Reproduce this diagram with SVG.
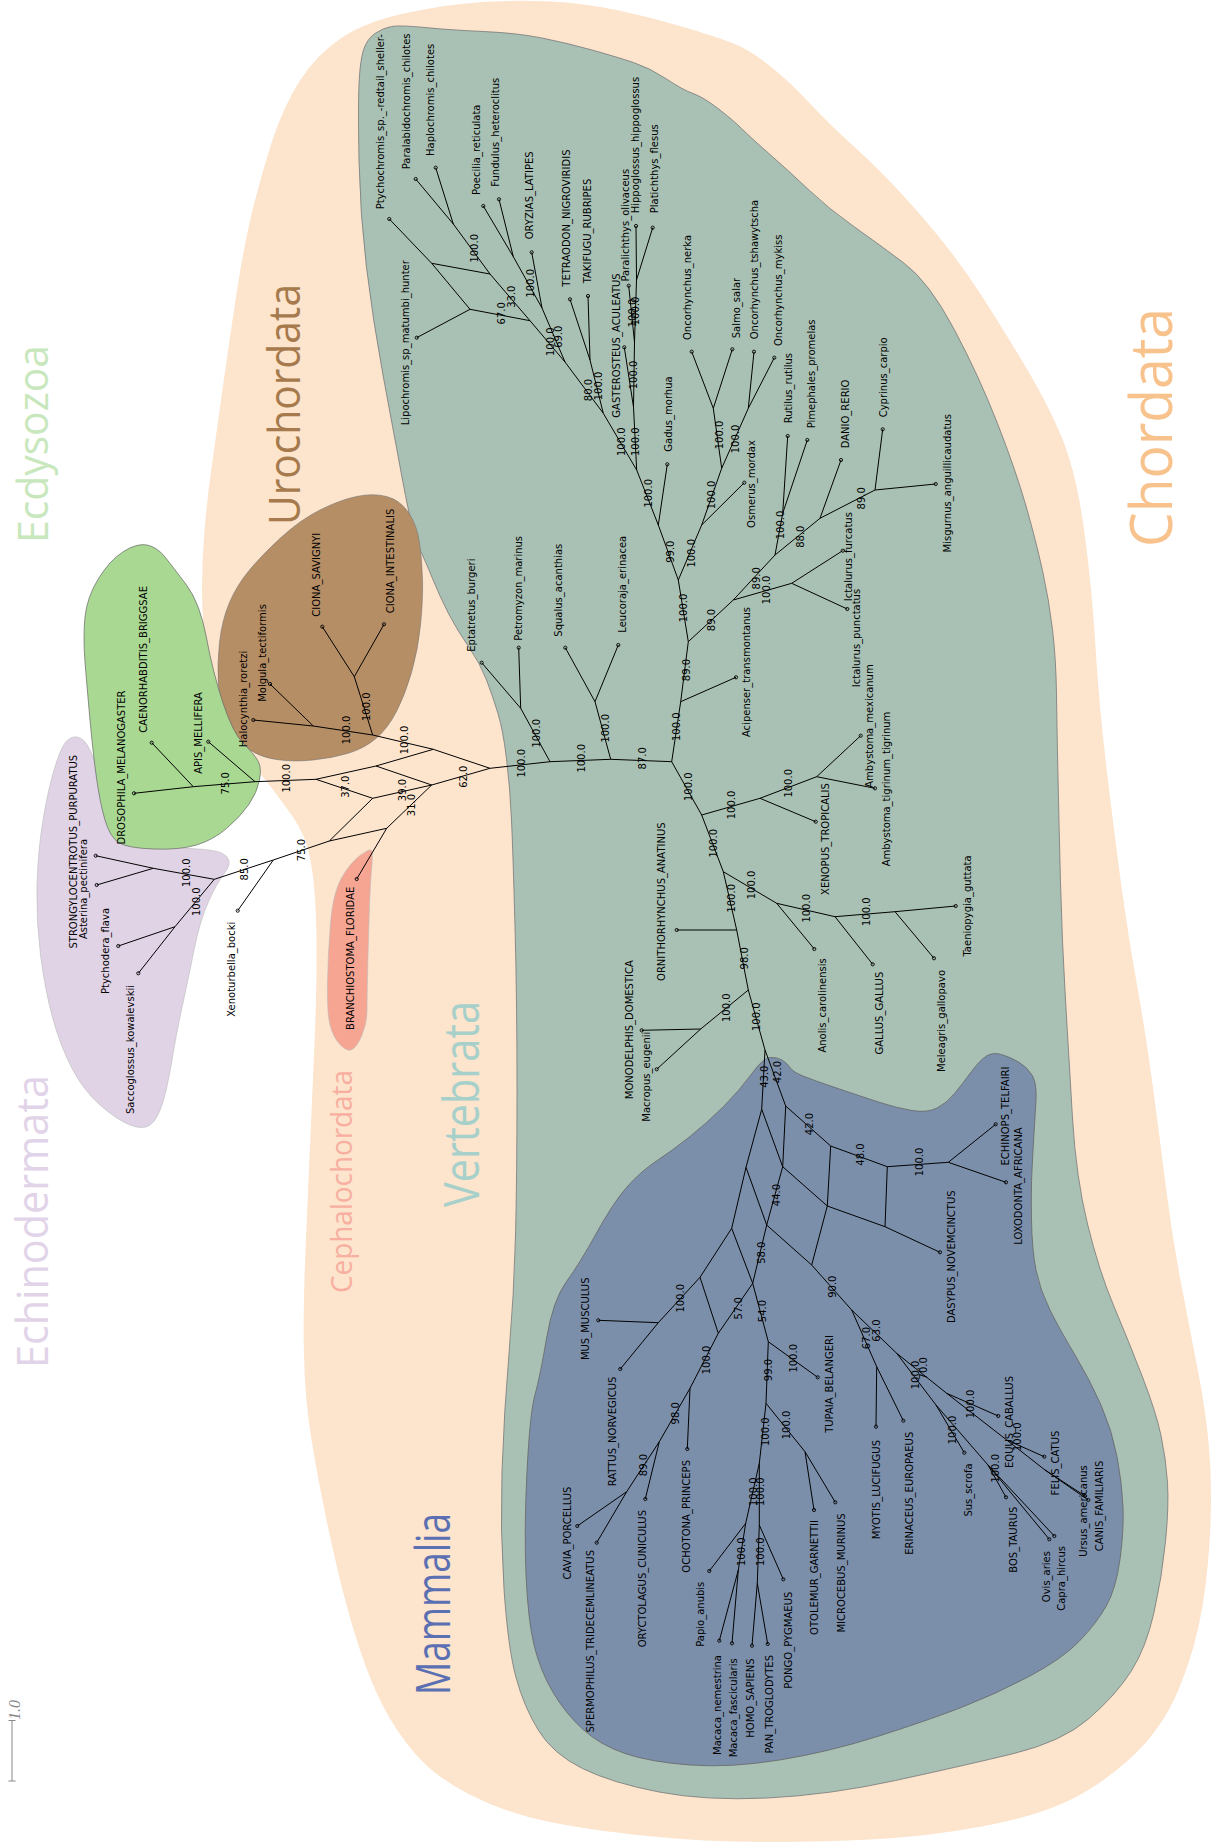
<svg xmlns="http://www.w3.org/2000/svg" width="1229" height="1845" viewBox="0 0 1229 1845">
<style>
.lf{font-family:"DejaVu Sans","Liberation Sans",sans-serif;font-size:10px;fill:#000}
.bs{font-family:"DejaVu Sans","Liberation Sans",sans-serif;font-size:10px;fill:#000;text-anchor:middle}
.big{font-family:"Open Sans","DejaVu Sans",sans-serif}
.e{stroke:#000;stroke-width:1;fill:none;stroke-linejoin:round}
.d{fill:none;stroke:#000;stroke-width:0.9}
.s{text-anchor:start}.m{text-anchor:middle}.n{text-anchor:end}
</style>
<rect width="1229" height="1845" fill="#fff"/>
<g id="regions" stroke-linejoin="round">
<path id="r-chordata" fill="#fce4cd" d="M408.5 12.5 Q450 4 483.5 2 Q517 0 550 1.5 Q583 3 616.5 10 Q650 17 683.5 27 Q717 37 733.5 43.5 Q750 50 770 66 Q790 82 809.5 103 Q829 124 854.5 147 Q880 170 904.5 197 Q929 224 947 247 Q965 270 980.5 294 Q996 318 1021 359 Q1046 400 1061 435.5 Q1076 471 1084 529.5 Q1092 588 1095.5 647 Q1099 706 1107.5 776.5 Q1116 847 1122.5 894 Q1129 941 1137.5 988 Q1146 1035 1153 1087.5 Q1160 1140 1166 1188 Q1172 1236 1181 1283 Q1190 1330 1198 1371 Q1206 1412 1209 1447.5 Q1212 1483 1210.5 1524 Q1209 1565 1202.5 1606 Q1196 1647 1179 1688.5 Q1162 1730 1129 1759.5 Q1096 1789 1062.5 1803.5 Q1029 1818 979 1827 Q929 1836 879 1839 Q829 1842 767.5 1842 Q706 1842 647.5 1836 Q589 1830 547.5 1821.5 Q506 1813 470.5 1795 Q435 1777 415 1753.5 Q395 1730 382.5 1705 Q370 1680 360 1650 Q350 1620 342.5 1590 Q335 1560 326.5 1520 Q318 1480 311.5 1440 Q305 1400 304 1356.5 Q303 1313 305 1263 Q307 1213 310 1146.5 Q313 1080 315 1030 Q317 980 316.5 940 Q316 900 313 876.5 Q310 853 305 840 Q300 827 291.5 815 Q283 803 272.5 789 Q262 775 248.5 760 Q235 745 223.5 722.5 Q212 700 207 660 Q202 620 202 590 Q202 560 204.5 530 Q207 500 212 464.5 Q217 429 222 393 Q227 357 235 303.5 Q243 250 251.5 214.5 Q260 179 271.5 143 Q283 107 300 80.5 Q317 54 342 37.5 Q367 21 408.5 12.5 Z"/>
<path id="r-vertebrata" fill="#a9c1b4" stroke="#777" stroke-width="0.8" d="M375 33.5 Q383 28 391.5 26.5 Q400 25 425 27.5 Q450 30 483.5 31.5 Q517 33 542 38 Q567 43 592 50 Q617 57 633.5 62.5 Q650 68 666.5 79 Q683 90 693 93.5 Q703 97 718 108.5 Q733 120 741.5 128.5 Q750 137 770 154.5 Q790 172 809.5 190.5 Q829 209 854.5 227 Q880 245 904.5 263.5 Q929 282 954 329 Q979 376 997.5 423.5 Q1016 471 1026 506 Q1036 541 1042.5 570.5 Q1049 600 1052.5 629.5 Q1056 659 1056.5 694.5 Q1057 730 1058 777 Q1059 824 1060.5 882.5 Q1062 941 1065.5 1000 Q1069 1059 1072.5 1118 Q1076 1177 1087.5 1224 Q1099 1271 1114 1306.5 Q1129 1342 1142.5 1377 Q1156 1412 1161 1435.5 Q1166 1459 1167.5 1482.5 Q1169 1506 1165.5 1541.5 Q1162 1577 1154 1612.5 Q1146 1648 1131 1671.5 Q1116 1695 1089 1718.5 Q1062 1742 1012 1754 Q962 1766 895.5 1780.5 Q829 1795 767.5 1798 Q706 1801 659 1792 Q612 1783 582.5 1768.5 Q553 1754 538.5 1730.5 Q524 1707 516 1677.5 Q508 1648 504 1589 Q500 1530 502 1471 Q504 1412 509 1353.5 Q514 1295 515.5 1236 Q517 1177 517 1088.5 Q517 1000 515 926.5 Q513 853 511.5 820 Q510 787 506.5 758.5 Q503 730 498 713.5 Q493 697 486.5 680 Q480 663 468.5 646.5 Q457 630 448.5 613.5 Q440 597 432.5 578.5 Q425 560 419 548 Q413 536 403 482.5 Q393 429 383 375 Q373 321 366.5 267.5 Q360 214 359 160.5 Q358 107 359 84 Q360 61 363.5 50 Q367 39 375 33.5 Z"/>
<path id="r-mammalia" fill="#7b8fab" stroke="#666" stroke-width="0.8" d="M751.5 1074 Q763 1058 770 1057.5 Q777 1057 782 1060 Q787 1063 790 1067.5 Q793 1072 803 1076 Q813 1080 838 1088.5 Q863 1097 880 1102.5 Q897 1108 912 1110.5 Q927 1113 937 1108 Q947 1103 955 1093 Q963 1083 971.5 1071.5 Q980 1060 986.5 1056 Q993 1052 1001.5 1054.5 Q1010 1057 1018.5 1062 Q1027 1067 1032 1075 Q1037 1083 1036 1100 Q1035 1117 1034 1133.5 Q1033 1150 1032 1170 Q1031 1190 1031.5 1220 Q1032 1250 1036 1270 Q1040 1290 1050 1310 Q1060 1330 1075 1355 Q1090 1380 1101 1405 Q1112 1430 1117 1456.5 Q1122 1483 1123 1506.5 Q1124 1530 1120 1559.5 Q1116 1589 1106 1606.5 Q1096 1624 1079 1641.5 Q1062 1659 1029 1676.5 Q996 1694 962.5 1707 Q929 1720 879 1736 Q829 1752 779.5 1760 Q730 1768 690 1765 Q650 1762 625 1753.5 Q600 1745 582.5 1729 Q565 1713 552.5 1691.5 Q540 1670 534 1645 Q528 1620 526 1575 Q524 1530 527 1471 Q530 1412 535 1394.5 Q540 1377 546.5 1338.5 Q553 1300 566.5 1281.5 Q580 1263 596.5 1233 Q613 1203 626.5 1187.5 Q640 1172 656.5 1161 Q673 1150 690 1136.5 Q707 1123 723.5 1106.5 Q740 1090 751.5 1074 Z"/>
<path id="r-urochordata" fill="#b68e66" stroke="#777" stroke-width="0.6" d="M356.5 496.5 Q373 493 386.5 496.5 Q400 500 408.5 512.5 Q417 525 419.5 542.5 Q422 560 422.5 580 Q423 600 420.5 625 Q418 650 411.5 672.5 Q405 695 396.5 711.5 Q388 728 376.5 738 Q365 748 349 753 Q333 758 313 760 Q293 762 276.5 759.5 Q260 757 247.5 748.5 Q235 740 227.5 722.5 Q220 705 218.5 685 Q217 665 219.5 642.5 Q222 620 229.5 602.5 Q237 585 249.5 570 Q262 555 281 537.5 Q300 520 320 510 Q340 500 356.5 496.5 Z"/>
<path id="r-echinodermata" fill="#e1d3e6" stroke="#bbb" stroke-width="0.6" d="M65 743 Q70 736 77 737 Q84 738 89.5 749 Q95 760 100 780 Q105 800 112.5 820 Q120 840 150 844 Q180 848 197.5 849 Q215 850 221.5 853 Q228 856 229 861 Q230 866 223.5 874.5 Q217 883 208.5 901.5 Q200 920 193.5 952.5 Q187 985 182 1007.5 Q177 1030 172 1060 Q167 1090 162 1105 Q157 1120 150 1125 Q143 1130 130 1125 Q117 1120 100 1105 Q83 1090 71.5 1067.5 Q60 1045 52.5 1017.5 Q45 990 40.5 955 Q36 920 37 885 Q38 850 43 820 Q48 790 54 770 Q60 750 65 743 Z"/>
<path id="r-ecdysozoa" fill="#a9d893" stroke="#666" stroke-width="0.7" d="M123.5 551.5 Q137 543 147 545 Q157 547 165 557 Q173 567 186.5 585 Q200 603 206.5 638 Q213 673 223 703 Q233 733 243 743 Q253 753 257.5 760 Q262 767 259.5 780 Q257 793 248.5 805 Q240 817 226.5 828.5 Q213 840 196.5 845 Q180 850 153.5 849 Q127 848 118.5 842.5 Q110 837 105 820 Q100 803 96.5 778 Q93 753 90 720 Q87 687 85 662 Q83 637 85 617 Q87 597 98.5 578.5 Q110 560 123.5 551.5 Z"/>
<path id="r-cephalochordata" fill="#f6a593" stroke="#bbb" stroke-width="0.6" d="M360 855.5 Q370 848 371.5 850.5 Q373 853 371.5 870 Q370 887 369 920 Q368 953 367.5 976.5 Q367 1000 367 1011.5 Q367 1023 362 1035 Q357 1047 352 1049.5 Q347 1052 340 1044.5 Q333 1037 330 1025 Q327 1013 327.5 983 Q328 953 330.5 923 Q333 893 341.5 878 Q350 863 360 855.5 Z"/>
</g>
<g id="clade-labels" class="big">
<text transform="translate(48,543) rotate(-90)" font-size="42" fill="#c9e7bd" textLength="198" lengthAdjust="spacingAndGlyphs">Ecdysozoa</text>
<text transform="translate(300,525) rotate(-90)" font-size="44" fill="#a67a4c" textLength="241" lengthAdjust="spacingAndGlyphs">Urochordata</text>
<text transform="translate(1172,547) rotate(-90)" font-size="58" fill="#f8c28d" textLength="239" lengthAdjust="spacingAndGlyphs">Chordata</text>
<text transform="translate(48,1368) rotate(-90)" font-size="44" fill="#e2d4e8" textLength="293" lengthAdjust="spacingAndGlyphs">Echinodermata</text>
<text transform="translate(352,1293) rotate(-90)" font-size="29" fill="#f8afa0" textLength="223" lengthAdjust="spacingAndGlyphs">Cephalochordata</text>
<text transform="translate(479,1207) rotate(-90)" font-size="50" fill="#a8d0ca" textLength="206" lengthAdjust="spacingAndGlyphs">Vertebrata</text>
<text transform="translate(450,1695) rotate(-90)" font-size="48" fill="#5b70b2" textLength="182" lengthAdjust="spacingAndGlyphs">Mammalia</text>
</g>
<g id="connectors" class="e">
<path d="M389.3 219L431.7 263.3L490 274L530 320.7L565 362L603.3 413.3L636.7 470L658.3 525L678.3 580L688.3 641.7L680.7 701.7L671.7 761.7M431.7 263.3L470 309.3L530 320.7M470 309.3L416.7 337.7M415.7 179L453.3 224L490 274M435.7 167.7L453.3 224M483.3 206L513.3 256.7L542 308L565 362M499 199.3L513.3 256.7M531.7 252.3L542 308M570 299.3L590 360L603.3 413.3M588 296L590 360M636 226L636.5 280L634.5 342L633.5 407L636.7 470M652.7 227.7L636.5 280M628.7 285.7L634.5 342M624.3 347.3L633.5 407M667.3 464.3L658.3 525"/>
<path d="M678.3 580L701.7 525L744.3 482.7M701.7 525L721.7 468.3L713.3 408.3L691.7 351.7M713.3 408.3L732.3 349.3M721.7 468.3L748.3 408.3L774.3 357.7M748.3 408.3L754 351.7M688.3 641.7L733.3 600L791.7 583.3L842.7 550.7M791.7 583.3L847.3 609M733.3 600L775 555L820 518.3L875 490L935.7 484M775 555L782.7 513.3L787.7 436M782.7 513.3L807.3 440M820 518.3L841 460M875 490L882.7 429.3M680.7 701.7L736 677.3"/>
<path d="M671.7 761.7L610.7 759.3L550 761.7L490 768.3M610.7 759.3L595 701.7L565.3 647.7M595 701.7L618.3 645M550 761.7L520.7 708.3L481.7 662.7M520.7 708.3L518.7 647.7M671.7 761.7L701.7 815L723.3 871.7L736.7 930L748.3 990L765 1050M701.7 815L760 798.3L815.7 821.7M760 798.3L816.7 776.7L860.7 735.7M816.7 776.7L875 788.3M723.3 871.7L776.7 903.3L814.3 949M776.7 903.3L835 916.7L872.7 964.3M835 916.7L895 911.7L955.7 906M895 911.7L934 958.3M736.7 930L676.7 930M748.3 990L700.7 1029L641.7 1030.3M700.7 1029L656.7 1069.3"/>
<path d="M765 1050L761.7 1109.3L746 1167.3L731.7 1228.3L700 1277.3L658.3 1322.7L620.3 1369M765 1050L785.7 1106L830.7 1146L887.3 1166.7L948.3 1162.3L995.7 1124.3M948.3 1162.3L1006 1182.3M785.7 1106L782.7 1166.7L827.3 1206L885 1226.7L940 1252.3M830.7 1146L827.3 1206M887.3 1166.7L885 1226.7M761.7 1109.3L782.7 1166.7L766.7 1225L811.7 1265L851.7 1310M827.3 1206L811.7 1265M746 1167.3L766.7 1225L752.7 1283.3L768.3 1341.7M731.7 1228.3L752.7 1283.3M700 1277.3L718.3 1333.3L752.7 1283.3M658.3 1322.7L598.3 1320.3"/>
<path d="M718.3 1333.3L690 1388.3L659.3 1441.7L626.7 1491.7L577.3 1526M626.7 1491.7L596.7 1542.7M659.3 1441.7L645.3 1499M690 1388.3L687.3 1449M768.3 1341.7L817.7 1377.3M768.3 1341.7L766 1403.3L759.3 1463.3L745.7 1523.3L738.3 1570L719.3 1640.7M738.3 1570L732 1643.3M745.7 1523.3L709.3 1571M759.3 1463.3L759.3 1525L757.3 1583.3L752 1645.7M757.3 1583.3L767.7 1644M759.3 1525L783.3 1579.3M766 1403.3L805 1451.7L814 1510M805 1451.7L835.3 1502.3"/>
<path d="M851.7 1310L876.7 1366.7L876 1426.7M876.7 1366.7L903.3 1420.7M851.7 1310L896.7 1353.3L936 1405L988 1465L1049.3 1539.3M988 1465L1054.3 1536M988 1465L1006 1497.3M936 1405L964.3 1452.7M896.7 1353.3L946.7 1393.3L1006.7 1440L1045 1470L1088.3 1500M1045 1470L1085 1496M1006.7 1440L1044.3 1456.7M946.7 1393.3L998.3 1416"/>
<path d="M490 768.3L433.3 749.3L372.7 735L313.3 726L253.3 720M313.3 726L270 684M372.7 735L354.3 676.7L322.3 626.7M354.3 676.7L384 624.3M490 768.3L431.7 785L386.7 828.3L356.7 879M433.3 749.3L376 766L431.7 785M376 766L316 779.3L372.7 798.3L431.7 785M372.7 798.3L329.3 841L386.7 828.3M316 779.3L255 781.7L193.3 786.7L134 793.3M255 781.7L208.3 741.7M193.3 786.7L151.7 742.7M329.3 841L273.3 860L214.3 879.3L153.3 868.3L95.7 855.7M273.3 860L237.7 910.7M153.3 868.3L96.7 885M214.3 879.3L175 926.7L118.3 946M175 926.7L138.3 973.3"/>
</g>
<g id="support">
<text class="bs" transform="translate(477.6,248.3) rotate(-90)">100.0</text>
<text class="bs" transform="translate(514.6,296.7) rotate(-90)">33.0</text>
<text class="bs" transform="translate(505.3,313.3) rotate(-90)">67.0</text>
<text class="bs" transform="translate(533.6,283.3) rotate(-90)">100.0</text>
<text class="bs" transform="translate(553.6,341.7) rotate(-90)">100.0</text>
<text class="bs" transform="translate(561.9,336.7) rotate(-90)">69.0</text>
<text class="bs" transform="translate(591.9,390) rotate(-90)">80.0</text>
<text class="bs" transform="translate(601.9,386) rotate(-90)">100.0</text>
<text class="bs" transform="translate(625.3,441.7) rotate(-90)">100.0</text>
<text class="bs" transform="translate(638.6,441.7) rotate(-90)">100.0</text>
<text class="bs" transform="translate(636.9,375) rotate(-90)">100.0</text>
<text class="bs" transform="translate(636.1,313) rotate(-90)">100.0</text>
<text class="bs" transform="translate(638.6,311) rotate(-90)">100.0</text>
<text class="bs" transform="translate(651.9,493.3) rotate(-90)">100.0</text>
<text class="bs" transform="translate(673.6,551.7) rotate(-90)">99.0</text>
<text class="bs" transform="translate(695.3,553.3) rotate(-90)">100.0</text>
<text class="bs" transform="translate(715.3,495) rotate(-90)">100.0</text>
<text class="bs" transform="translate(722.9,435) rotate(-90)">100.0</text>
<text class="bs" transform="translate(739.1,439) rotate(-90)">100.0</text>
<text class="bs" transform="translate(686.9,608) rotate(-90)">100.0</text>
<text class="bs" transform="translate(715.3,620) rotate(-90)">89.0</text>
<text class="bs" transform="translate(760.3,578.3) rotate(-90)">89.0</text>
<text class="bs" transform="translate(769.6,590) rotate(-90)">100.0</text>
<text class="bs" transform="translate(783.6,525) rotate(-90)">100.0</text>
<text class="bs" transform="translate(803.6,536.7) rotate(-90)">88.0</text>
<text class="bs" transform="translate(865.3,498.3) rotate(-90)">89.0</text>
<text class="bs" transform="translate(689.6,670) rotate(-90)">89.0</text>
<text class="bs" transform="translate(680.3,726.7) rotate(-90)">100.0</text>
<text class="bs" transform="translate(646.3,758.3) rotate(-90)">87.0</text>
<text class="bs" transform="translate(608.6,728.3) rotate(-90)">100.0</text>
<text class="bs" transform="translate(585.3,758.3) rotate(-90)">100.0</text>
<text class="bs" transform="translate(540.3,733.3) rotate(-90)">100.0</text>
<text class="bs" transform="translate(525.3,763.3) rotate(-90)">100.0</text>
<text class="bs" transform="translate(466.9,776.7) rotate(-90)">62.0</text>
<text class="bs" transform="translate(691.9,786.7) rotate(-90)">100.0</text>
<text class="bs" transform="translate(735.3,805) rotate(-90)">100.0</text>
<text class="bs" transform="translate(791.9,783.3) rotate(-90)">100.0</text>
<text class="bs" transform="translate(716.9,843.3) rotate(-90)">100.0</text>
<text class="bs" transform="translate(755.3,885) rotate(-90)">100.0</text>
<text class="bs" transform="translate(735.3,898.3) rotate(-90)">100.0</text>
<text class="bs" transform="translate(810.3,908.3) rotate(-90)">100.0</text>
<text class="bs" transform="translate(870.1,911.7) rotate(-90)">100.0</text>
<text class="bs" transform="translate(747.9,958.3) rotate(-90)">98.0</text>
<text class="bs" transform="translate(730.3,1007.7) rotate(-90)">100.0</text>
<text class="bs" transform="translate(760.3,1016.7) rotate(-90)">100.0</text>
<text class="bs" transform="translate(767.9,1076.7) rotate(-90)">43.0</text>
<text class="bs" transform="translate(780.6,1072) rotate(-90)">42.0</text>
<text class="bs" transform="translate(813.3,1124) rotate(-90)">42.0</text>
<text class="bs" transform="translate(864.1,1154.5) rotate(-90)">48.0</text>
<text class="bs" transform="translate(923.1,1162) rotate(-90)">100.0</text>
<text class="bs" transform="translate(779.9,1195) rotate(-90)">44.0</text>
<text class="bs" transform="translate(765.3,1252.7) rotate(-90)">58.0</text>
<text class="bs" transform="translate(836.3,1286.7) rotate(-90)">90.0</text>
<text class="bs" transform="translate(741.6,1308.3) rotate(-90)">57.0</text>
<text class="bs" transform="translate(765.6,1311) rotate(-90)">54.0</text>
<text class="bs" transform="translate(683.6,1298.3) rotate(-90)">100.0</text>
<text class="bs" transform="translate(870.3,1338) rotate(-90)">67.0</text>
<text class="bs" transform="translate(879.6,1330.5) rotate(-90)">63.0</text>
<text class="bs" transform="translate(710.3,1360) rotate(-90)">100.0</text>
<text class="bs" transform="translate(771.9,1370) rotate(-90)">99.0</text>
<text class="bs" transform="translate(796.9,1358.3) rotate(-90)">100.0</text>
<text class="bs" transform="translate(678.6,1413.3) rotate(-90)">98.0</text>
<text class="bs" transform="translate(646.9,1465) rotate(-90)">89.0</text>
<text class="bs" transform="translate(768.6,1431.7) rotate(-90)">100.0</text>
<text class="bs" transform="translate(789.6,1425) rotate(-90)">100.0</text>
<text class="bs" transform="translate(756.9,1491.7) rotate(-90)">100.0</text>
<text class="bs" transform="translate(763.6,1491.7) rotate(-90)">100.0</text>
<text class="bs" transform="translate(745.3,1551.7) rotate(-90)">100.0</text>
<text class="bs" transform="translate(763.6,1551.7) rotate(-90)">100.0</text>
<text class="bs" transform="translate(918.6,1375) rotate(-90)">100.0</text>
<text class="bs" transform="translate(926.9,1368.3) rotate(-90)">70.0</text>
<text class="bs" transform="translate(956.3,1430) rotate(-90)">100.0</text>
<text class="bs" transform="translate(974.3,1404) rotate(-90)">100.0</text>
<text class="bs" transform="translate(998.6,1468.3) rotate(-90)">100.0</text>
<text class="bs" transform="translate(1020.9,1436.7) rotate(-90)">100.0</text>
<text class="bs" transform="translate(350.3,730) rotate(-90)">100.0</text>
<text class="bs" transform="translate(369.6,706.7) rotate(-90)">100.0</text>
<text class="bs" transform="translate(407.6,740) rotate(-90)">100.0</text>
<text class="bs" transform="translate(228.6,783.3) rotate(-90)">75.0</text>
<text class="bs" transform="translate(289.6,778.3) rotate(-90)">100.0</text>
<text class="bs" transform="translate(348.6,786.7) rotate(-90)">37.0</text>
<text class="bs" transform="translate(406.3,790) rotate(-90)">39.0</text>
<text class="bs" transform="translate(415.3,805) rotate(-90)">31.0</text>
<text class="bs" transform="translate(305.3,850) rotate(-90)">75.0</text>
<text class="bs" transform="translate(247.9,869.3) rotate(-90)">85.0</text>
<text class="bs" transform="translate(190.3,872.7) rotate(-90)">100.0</text>
<text class="bs" transform="translate(200.3,901.7) rotate(-90)">100.0</text>
</g>
<g id="taxa">
<g id="t01"><circle class="d" cx="389.3" cy="219" r="1.6"/><text class="lf s" transform="translate(383.5,209.3) rotate(-90)">Ptychochromis_sp._-redtail_sheller-</text></g>
<g id="t02"><circle class="d" cx="415.7" cy="179" r="1.6"/><text class="lf s" transform="translate(410,169.3) rotate(-90)">Paralabidochromis_chilotes</text></g>
<g id="t03"><circle class="d" cx="435.7" cy="167.7" r="1.6"/><text class="lf s" transform="translate(434,156) rotate(-90)">Haplochromis_chilotes</text></g>
<g id="t04"><circle class="d" cx="483.3" cy="206" r="1.6"/><text class="lf s" transform="translate(480,195) rotate(-90)">Poecilia_reticulata</text></g>
<g id="t05"><circle class="d" cx="499" cy="199.3" r="1.6"/><text class="lf s" transform="translate(499,186.7) rotate(-90)">Fundulus_heteroclitus</text></g>
<g id="t06"><circle class="d" cx="531.7" cy="252.3" r="1.6"/><text class="lf s" transform="translate(533,239.3) rotate(-90)">ORYZIAS_LATIPES</text></g>
<g id="t07"><circle class="d" cx="570" cy="299.3" r="1.6"/><text class="lf s" transform="translate(569.5,286.7) rotate(-90)">TETRAODON_NIGROVIRIDIS</text></g>
<g id="t08"><circle class="d" cx="588" cy="296" r="1.6"/><text class="lf s" transform="translate(590.5,283.3) rotate(-90)">TAKIFUGU_RUBRIPES</text></g>
<g id="t09"><circle class="d" cx="628.7" cy="285.7" r="1.6"/><text class="lf s" transform="translate(629,281.5) rotate(-90)">Paralichthys_olivaceus</text></g>
<g id="t10"><circle class="d" cx="636" cy="226" r="1.6"/><text class="lf s" transform="translate(638.5,213.3) rotate(-90)">Hippoglossus_hippoglossus</text></g>
<g id="t11"><circle class="d" cx="652.7" cy="227.7" r="1.6"/><text class="lf s" transform="translate(657.5,213.3) rotate(-90)">Platichthys_flesus</text></g>
<g id="t12"><circle class="d" cx="691.7" cy="351.7" r="1.6"/><text class="lf s" transform="translate(690.5,340) rotate(-90)">Oncorhynchus_nerka</text></g>
<g id="t13"><circle class="d" cx="732.3" cy="349.3" r="1.6"/><text class="lf s" transform="translate(740,338.3) rotate(-90)">Salmo_salar</text></g>
<g id="t14"><circle class="d" cx="754" cy="351.7" r="1.6"/><text class="lf s" transform="translate(758,339.3) rotate(-90)">Oncorhynchus_tshawytscha</text></g>
<g id="t15"><circle class="d" cx="774.3" cy="357.7" r="1.6"/><text class="lf s" transform="translate(781.5,346) rotate(-90)">Oncorhynchus_mykiss</text></g>
<g id="t16"><circle class="d" cx="667.3" cy="464.3" r="1.6"/><text class="lf s" transform="translate(672,451.7) rotate(-90)">Gadus_morhua</text></g>
<g id="t17"><circle class="d" cx="787.7" cy="436" r="1.6"/><text class="lf s" transform="translate(792,423.3) rotate(-90)">Rutilus_rutilus</text></g>
<g id="t18"><circle class="d" cx="807.3" cy="440" r="1.6"/><text class="lf s" transform="translate(815,428.3) rotate(-90)">Pimephales_promelas</text></g>
<g id="t19"><circle class="d" cx="841" cy="460" r="1.6"/><text class="lf s" transform="translate(849.3,448.3) rotate(-90)">DANIO_RERIO</text></g>
<g id="t20"><circle class="d" cx="882.7" cy="429.3" r="1.6"/><text class="lf s" transform="translate(886.5,417.3) rotate(-90)">Cyprinus_carpio</text></g>
<g id="t21"><circle class="d" cx="481.7" cy="662.7" r="1.6"/><text class="lf s" transform="translate(474.5,651.7) rotate(-90)">Eptatretus_burgeri</text></g>
<g id="t22"><circle class="d" cx="518.7" cy="647.7" r="1.6"/><text class="lf s" transform="translate(521.5,640.7) rotate(-90)">Petromyzon_marinus</text></g>
<g id="t23"><circle class="d" cx="565.3" cy="647.7" r="1.6"/><text class="lf s" transform="translate(561.5,636.7) rotate(-90)">Squalus_acanthias</text></g>
<g id="t24"><circle class="d" cx="618.3" cy="645" r="1.6"/><text class="lf s" transform="translate(625.5,632.7) rotate(-90)">Leucoraja_erinacea</text></g>
<g id="t25"><circle class="d" cx="322.3" cy="626.7" r="1.6"/><text class="lf s" transform="translate(320,616.7) rotate(-90)">CIONA_SAVIGNYI</text></g>
<g id="t26"><circle class="d" cx="384" cy="624.3" r="1.6"/><text class="lf s" transform="translate(394,613.3) rotate(-90)">CIONA_INTESTINALIS</text></g>
<g id="t27"><circle class="d" cx="151.7" cy="742.7" r="1.6"/><text class="lf s" transform="translate(147.3,732.7) rotate(-90)">CAENORHABDITIS_BRIGGSAE</text></g>
<g id="t28"><circle class="d" cx="416.7" cy="337.7" r="1.6"/><text class="lf m" transform="translate(408.5,342.7) rotate(-90)">Lipochromis_sp_matumbi_hunter</text></g>
<g id="t29"><circle class="d" cx="624.3" cy="347.3" r="1.6"/><text class="lf m" transform="translate(620,345.5) rotate(-90)">GASTEROSTEUS_ACULEATUS</text></g>
<g id="t30"><circle class="d" cx="744.3" cy="482.7" r="1.6"/><text class="lf m" transform="translate(755,484) rotate(-90)">Osmerus_mordax</text></g>
<g id="t31"><circle class="d" cx="935.7" cy="484" r="1.6"/><text class="lf m" transform="translate(951,483.3) rotate(-90)">Misgurnus_anguillicaudatus</text></g>
<g id="t32"><circle class="d" cx="842.7" cy="550.7" r="1.6"/><text class="lf m" transform="translate(852,556.7) rotate(-90)">Ictalurus_furcatus</text></g>
<g id="t33"><circle class="d" cx="847.3" cy="609" r="1.6"/><text class="lf m" transform="translate(859.5,638) rotate(-90)">Ictalurus_punctatus</text></g>
<g id="t34"><circle class="d" cx="736" cy="677.3" r="1.6"/><text class="lf m" transform="translate(750,672) rotate(-90)">Acipenser_transmontanus</text></g>
<g id="t35"><circle class="d" cx="860.7" cy="735.7" r="1.6"/><text class="lf m" transform="translate(872.5,726) rotate(-90)">Ambystoma_mexicanum</text></g>
<g id="t36"><circle class="d" cx="875" cy="788.3" r="1.6"/><text class="lf m" transform="translate(889.5,789) rotate(-90)">Ambystoma_tigrinum_tigrinum</text></g>
<g id="t37"><circle class="d" cx="815.7" cy="821.7" r="1.6"/><text class="lf m" transform="translate(829.3,839) rotate(-90)">XENOPUS_TROPICALIS</text></g>
<g id="t38"><circle class="d" cx="676.7" cy="930" r="1.6"/><text class="lf m" transform="translate(665,901.7) rotate(-90)">ORNITHORHYNCHUS_ANATINUS</text></g>
<g id="t39"><circle class="d" cx="955.7" cy="906" r="1.6"/><text class="lf m" transform="translate(971,906) rotate(-90)">Taeniopygia_guttata</text></g>
<g id="t40"><circle class="d" cx="641.7" cy="1030.3" r="1.6"/><text class="lf m" transform="translate(632.7,1029.7) rotate(-90)">MONODELPHIS_DOMESTICA</text></g>
<g id="t41"><circle class="d" cx="656.7" cy="1069.3" r="1.6"/><text class="lf m" transform="translate(650,1076.7) rotate(-90)">Macropus_eugenii</text></g>
<g id="t42"><circle class="d" cx="995.7" cy="1124.3" r="1.6"/><text class="lf m" transform="translate(1009,1116) rotate(-90)">ECHINOPS_TELFAIRI</text></g>
<g id="t43"><circle class="d" cx="1006" cy="1182.3" r="1.6"/><text class="lf m" transform="translate(1021.7,1186) rotate(-90)">LOXODONTA_AFRICANA</text></g>
<g id="t44"><circle class="d" cx="940" cy="1252.3" r="1.6"/><text class="lf m" transform="translate(955,1256.7) rotate(-90)">DASYPUS_NOVEMCINCTUS</text></g>
<g id="t45"><circle class="d" cx="598.3" cy="1320.3" r="1.6"/><text class="lf m" transform="translate(589.3,1318.8) rotate(-90)">MUS_MUSCULUS</text></g>
<g id="t46"><circle class="d" cx="817.7" cy="1377.3" r="1.6"/><text class="lf m" transform="translate(833,1384) rotate(-90)">TUPAIA_BELANGERI</text></g>
<g id="t47"><circle class="d" cx="577.3" cy="1526" r="1.6"/><text class="lf m" transform="translate(570.7,1533) rotate(-90)">CAVIA_PORCELLUS</text></g>
<g id="t48"><circle class="d" cx="998.3" cy="1416" r="1.6"/><text class="lf m" transform="translate(1013.3,1422) rotate(-90)">EQUUS_CABALLUS</text></g>
<g id="t49"><circle class="d" cx="1044.3" cy="1456.7" r="1.6"/><text class="lf m" transform="translate(1059,1463) rotate(-90)">FELIS_CATUS</text></g>
<g id="t50"><circle class="d" cx="1088.3" cy="1500" r="1.6"/><text class="lf m" transform="translate(1087,1511) rotate(-90)">Ursus_americanus</text></g>
<g id="t51"><circle class="d" cx="1085" cy="1496" r="1.6"/><text class="lf m" transform="translate(1102.7,1506) rotate(-90)">CANIS_FAMILIARIS</text></g>
<g id="t52"><circle class="d" cx="253.3" cy="720" r="1.6"/><text class="lf m" transform="translate(247,699) rotate(-90)">Halocynthia_roretzi</text></g>
<g id="t53"><circle class="d" cx="270" cy="684" r="1.6"/><text class="lf m" transform="translate(266,653) rotate(-90)">Molgula_tectiformis</text></g>
<g id="t54"><circle class="d" cx="134" cy="793.3" r="1.6"/><text class="lf m" transform="translate(125,767.5) rotate(-90)">DROSOPHILA_MELANOGASTER</text></g>
<g id="t55"><circle class="d" cx="208.3" cy="741.7" r="1.6"/><text class="lf m" transform="translate(202.3,733) rotate(-90)">APIS_MELLIFERA</text></g>
<g id="t56"><circle class="d" cx="95.7" cy="855.7" r="1.6"/><text class="lf m" transform="translate(76.7,851.7) rotate(-90)">STRONGYLOCENTROTUS_PURPURATUS</text></g>
<g id="t57"><circle class="d" cx="96.7" cy="885" r="1.6"/><text class="lf m" transform="translate(87,889) rotate(-90)">Asterina_pectinifera</text></g>
<g id="t58"><circle class="d" cx="118.3" cy="946" r="1.6"/><text class="lf m" transform="translate(108.5,951) rotate(-90)">Ptychodera_flava</text></g>
<g id="t59"><circle class="d" cx="138.3" cy="973.3" r="1.6"/><text class="lf n" transform="translate(133.5,985) rotate(-90)">Saccoglossus_kowalevskii</text></g>
<g id="t60"><circle class="d" cx="237.7" cy="910.7" r="1.6"/><text class="lf n" transform="translate(235,921.7) rotate(-90)">Xenoturbella_bocki</text></g>
<g id="t61"><circle class="d" cx="356.7" cy="879" r="1.6"/><text class="lf n" transform="translate(354,886.7) rotate(-90)">BRANCHIOSTOMA_FLORIDAE</text></g>
<g id="t62"><circle class="d" cx="814.3" cy="949" r="1.6"/><text class="lf n" transform="translate(826,958.3) rotate(-90)">Anolis_carolinensis</text></g>
<g id="t63"><circle class="d" cx="872.7" cy="964.3" r="1.6"/><text class="lf n" transform="translate(883.3,971.7) rotate(-90)">GALLUS_GALLUS</text></g>
<g id="t64"><circle class="d" cx="934" cy="958.3" r="1.6"/><text class="lf n" transform="translate(944.5,970) rotate(-90)">Meleagris_gallopavo</text></g>
<g id="t65"><circle class="d" cx="620.3" cy="1369" r="1.6"/><text class="lf n" transform="translate(616,1376.7) rotate(-90)">RATTUS_NORVEGICUS</text></g>
<g id="t66"><circle class="d" cx="596.7" cy="1542.7" r="1.6"/><text class="lf n" transform="translate(594,1550) rotate(-90)">SPERMOPHILUS_TRIDECEMLINEATUS</text></g>
<g id="t67"><circle class="d" cx="645.3" cy="1499" r="1.6"/><text class="lf n" transform="translate(646,1510) rotate(-90)">ORYCTOLAGUS_CUNICULUS</text></g>
<g id="t68"><circle class="d" cx="687.3" cy="1449" r="1.6"/><text class="lf n" transform="translate(690,1460) rotate(-90)">OCHOTONA_PRINCEPS</text></g>
<g id="t69"><circle class="d" cx="709.3" cy="1571" r="1.6"/><text class="lf n" transform="translate(703.5,1581.7) rotate(-90)">Papio_anubis</text></g>
<g id="t70"><circle class="d" cx="719.3" cy="1640.7" r="1.6"/><text class="lf n" transform="translate(721,1655) rotate(-90)">Macaca_nemestrina</text></g>
<g id="t71"><circle class="d" cx="732" cy="1643.3" r="1.6"/><text class="lf n" transform="translate(736.7,1658.3) rotate(-90)">Macaca_fascicularis</text></g>
<g id="t72"><circle class="d" cx="752" cy="1645.7" r="1.6"/><text class="lf n" transform="translate(754,1658.3) rotate(-90)">HOMO_SAPIENS</text></g>
<g id="t73"><circle class="d" cx="767.7" cy="1644" r="1.6"/><text class="lf n" transform="translate(773.3,1655) rotate(-90)">PAN_TROGLODYTES</text></g>
<g id="t74"><circle class="d" cx="783.3" cy="1579.3" r="1.6"/><text class="lf n" transform="translate(792,1591.7) rotate(-90)">PONGO_PYGMAEUS</text></g>
<g id="t75"><circle class="d" cx="814" cy="1510" r="1.6"/><text class="lf n" transform="translate(818.3,1520) rotate(-90)">OTOLEMUR_GARNETTII</text></g>
<g id="t76"><circle class="d" cx="835.3" cy="1502.3" r="1.6"/><text class="lf n" transform="translate(845,1513.3) rotate(-90)">MICROCEBUS_MURINUS</text></g>
<g id="t77"><circle class="d" cx="876" cy="1426.7" r="1.6"/><text class="lf n" transform="translate(880,1440) rotate(-90)">MYOTIS_LUCIFUGUS</text></g>
<g id="t78"><circle class="d" cx="903.3" cy="1420.7" r="1.6"/><text class="lf n" transform="translate(912.7,1431.7) rotate(-90)">ERINACEUS_EUROPAEUS</text></g>
<g id="t79"><circle class="d" cx="964.3" cy="1452.7" r="1.6"/><text class="lf n" transform="translate(972,1463.3) rotate(-90)">Sus_scrofa</text></g>
<g id="t80"><circle class="d" cx="1006" cy="1497.3" r="1.6"/><text class="lf n" transform="translate(1017,1506.7) rotate(-90)">BOS_TAURUS</text></g>
<g id="t81"><circle class="d" cx="1049.3" cy="1539.3" r="1.6"/><text class="lf n" transform="translate(1050,1551) rotate(-90)">Ovis_aries</text></g>
<g id="t82"><circle class="d" cx="1054.3" cy="1536" r="1.6"/><text class="lf n" transform="translate(1065,1546) rotate(-90)">Capra_hircus</text></g>
</g>
<g id="scale-bar" stroke="#888" stroke-width="1">
<line x1="12" y1="1720.5" x2="12" y2="1781"/>
<line x1="8.5" y1="1720.5" x2="15.5" y2="1720.5"/>
<line x1="8.5" y1="1781" x2="15.5" y2="1781"/>
<text transform="translate(19.5,1720) rotate(-90)" stroke="none" fill="#888" font-family="Liberation Serif,serif" font-style="italic" font-size="16">1.0</text>
</g>
</svg>
